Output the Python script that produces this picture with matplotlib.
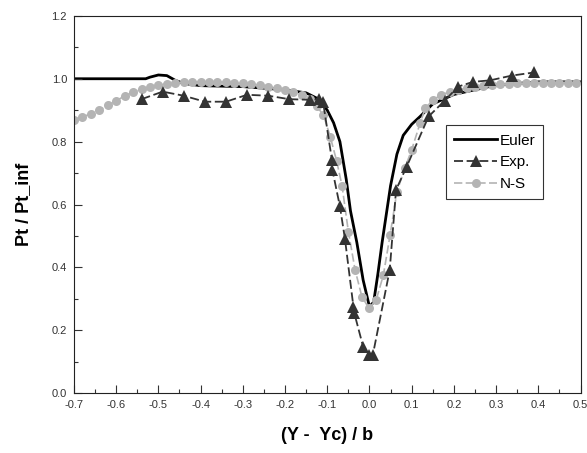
import numpy as np
import matplotlib
matplotlib.use("Agg")
import matplotlib.pyplot as plt
from matplotlib.ticker import MultipleLocator

plt.rcParams["font.family"] = ["Liberation Sans", "DejaVu Sans"]

# ── Data ──────────────────────────────────────────────────────────────────────

euler_x = [-0.70, -0.53, -0.52, -0.50, -0.48, -0.46, -0.44, -0.40, -0.30, -0.20,
           -0.15, -0.12, -0.10, -0.085, -0.07, -0.055, -0.045, -0.03, -0.015, 0.0,
           0.01, 0.02, 0.03, 0.04, 0.05, 0.065, 0.08, 0.10, 0.12, 0.15,
           0.20, 0.30, 0.40, 0.50]
euler_y = [1.000, 1.000, 1.005, 1.012, 1.010, 0.995, 0.985, 0.978, 0.975, 0.965,
           0.955, 0.935, 0.900, 0.860, 0.800, 0.680, 0.580, 0.480, 0.360, 0.275,
           0.290, 0.380, 0.480, 0.570, 0.660, 0.760, 0.820, 0.855, 0.880, 0.920,
           0.950, 0.980, 0.990, 0.990]

exp_x = [-0.54, -0.49, -0.44, -0.39, -0.34, -0.29, -0.24, -0.19, -0.14, -0.12,
         -0.11, -0.089, -0.088, -0.07, -0.058, -0.038, -0.036, -0.015, 0.0, 0.008,
         0.048, 0.063, 0.088, 0.14, 0.178, 0.21, 0.245, 0.286, 0.337, 0.39]
exp_y = [0.935, 0.959, 0.946, 0.927, 0.927, 0.949, 0.946, 0.935, 0.933, 0.935,
         0.927, 0.742, 0.711, 0.594, 0.490, 0.275, 0.255, 0.148, 0.122, 0.122,
         0.392, 0.647, 0.720, 0.880, 0.930, 0.975, 0.990, 0.995, 1.010, 1.020]

ns_x = [-0.70, -0.68, -0.66, -0.64, -0.62, -0.60, -0.58, -0.56, -0.54, -0.52,
        -0.50, -0.48, -0.46, -0.44, -0.42, -0.40, -0.38, -0.36, -0.34, -0.32,
        -0.30, -0.28, -0.26, -0.24, -0.22, -0.20, -0.18, -0.16, -0.14, -0.125,
        -0.109, -0.093, -0.078, -0.065, -0.05, -0.034, -0.018, -0.001, 0.016, 0.033,
        0.049, 0.065, 0.084, 0.10, 0.12, 0.132, 0.151, 0.17, 0.19, 0.21,
        0.23, 0.25, 0.27, 0.29, 0.31, 0.33, 0.35, 0.37, 0.39, 0.41,
        0.43, 0.45, 0.47, 0.49]
ns_y = [0.870, 0.878, 0.889, 0.900, 0.915, 0.930, 0.945, 0.957, 0.966, 0.973,
        0.979, 0.984, 0.987, 0.989, 0.990, 0.991, 0.991, 0.990, 0.989, 0.987,
        0.985, 0.982, 0.979, 0.975, 0.970, 0.965, 0.957, 0.948, 0.935, 0.912,
        0.885, 0.816, 0.740, 0.660, 0.514, 0.392, 0.307, 0.270, 0.297, 0.376,
        0.504, 0.641, 0.716, 0.774, 0.859, 0.906, 0.933, 0.949, 0.958, 0.965,
        0.970, 0.974, 0.977, 0.980, 0.982, 0.984, 0.985, 0.986, 0.987, 0.988,
        0.988, 0.988, 0.987, 0.987]

# ── Plot ──────────────────────────────────────────────────────────────────────

fig = plt.figure(figsize=(5.87, 4.53), dpi=100)
ax = fig.add_axes([0.126, 0.132, 0.863, 0.833])

ax.plot(ns_x, ns_y, color="#b4b4b4", linestyle=(0, (5, 2)), linewidth=1.2,
        marker="o", markersize=6.5, markeredgewidth=0, label="N-S", zorder=2)
ax.plot(exp_x, exp_y, color="#333333", linestyle=(0, (5, 2)), linewidth=1.3,
        marker="^", markersize=8, markeredgewidth=0, label="Exp.", zorder=3)
ax.plot(euler_x, euler_y, color="black", linewidth=2.0, label="Euler", zorder=1)

ax.set_xlim(-0.7, 0.5)
ax.set_ylim(0.0, 1.2)
ax.xaxis.set_major_locator(MultipleLocator(0.1))
ax.xaxis.set_minor_locator(MultipleLocator(0.05))
ax.yaxis.set_major_locator(MultipleLocator(0.2))
ax.yaxis.set_minor_locator(MultipleLocator(0.1))
ax.xaxis.set_major_formatter(matplotlib.ticker.FormatStrFormatter("%.1f"))
ax.yaxis.set_major_formatter(matplotlib.ticker.FormatStrFormatter("%.1f"))
ax.tick_params(which="both", direction="in", top=False, right=False,
               labelsize=8, colors="#333333", width=0.8)
ax.tick_params(which="major", length=6, pad=5)
ax.tick_params(which="minor", length=3)
for s in ax.spines.values():
    s.set_linewidth(0.8)
    s.set_color("#222222")

ax.set_xlabel("(Y -  Yc) / b", fontsize=13, fontweight="bold", labelpad=12)
ax.set_ylabel("Pt / Pt_inf", fontsize=13, fontweight="bold", labelpad=14)

handles, labels = ax.get_legend_handles_labels()
order = [2, 1, 0]
leg = ax.legend([handles[i] for i in order], [labels[i] for i in order],
                loc="upper left", bbox_to_anchor=(0.734, 0.710), fontsize=11,
                frameon=True, fancybox=False, edgecolor="black",
                handlelength=2.8, handletextpad=0.15, borderpad=0.55,
                labelspacing=0.5, borderaxespad=0)
leg.get_frame().set_linewidth(0.8)

fig.savefig("out.png", dpi=100)
